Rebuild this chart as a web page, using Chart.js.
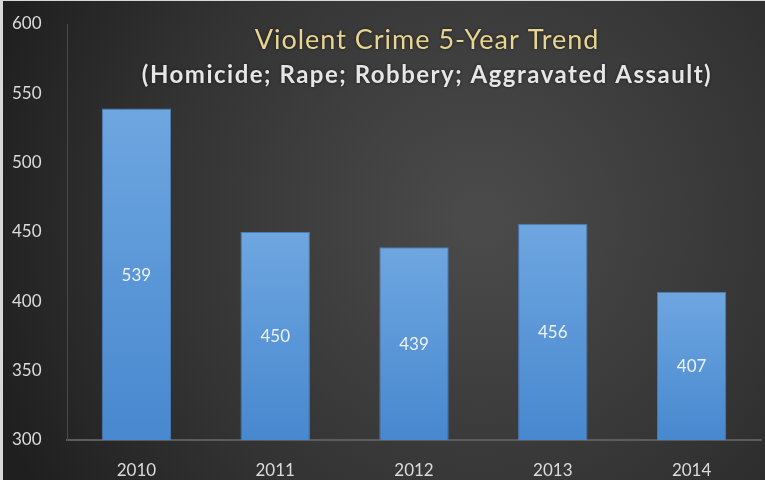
<!DOCTYPE html>
<html>
<head>
<meta charset="utf-8">
<script src="https://cdn.jsdelivr.net/npm/chart.js@4/dist/chart.umd.min.js"></script>
<style>
  html, body { margin: 0; padding: 0; background: #222; }
  #wrap { width: 765px; height: 480px; position: relative; }
</style>
</head>
<body>
<div id="wrap"><canvas id="myChart" width="765" height="480"></canvas></div>
<script>
const years = ["2010", "2011", "2012", "2013", "2014"];
const crimes = [539, 450, 439, 456, 407];
const yTicks = [300, 350, 400, 450, 500, 550, 600];
const titleText = "Violent Crime 5-Year Trend";
const subtitleText = "(Homicide; Rape; Robbery; Aggravated Assault)";

// dark radial background
const backdrop = {
  id: "backdrop",
  beforeDraw(chart) {
    const c = chart.ctx;
    const g = c.createRadialGradient(480, 220, 20, 480, 220, 520);
    g.addColorStop(0, "#4a4a4a");
    g.addColorStop(0.6, "#333333");
    g.addColorStop(1, "#1f1f1f");
    c.save();
    c.fillStyle = g;
    c.fillRect(0, 0, chart.width, chart.height);
    // light edge on the left like the screenshot
    c.fillStyle = "#d8d8d8";
    c.fillRect(0, 0, 3, chart.height);
    c.fillRect(0, 0, chart.width, 1);
    c.restore();
  }
};

// titles over the plot and value labels inside bars
const overlay = {
  id: "overlay",
  afterDatasetsDraw(chart) {
    const c = chart.ctx;
    const y = chart.scales.y;
    c.save();
    c.textAlign = "center";
    c.textBaseline = "middle";
    c.shadowColor = "rgba(0,0,0,0.6)";
    c.shadowBlur = 3;
    c.fillStyle = "#e8d591";
    c.font = "27px Lato";
    c.letterSpacing = "1px";
    c.fillText(titleText, 427, 40);
    c.fillStyle = "#e6e6e6";
    c.font = "bold 24px Lato";
    c.letterSpacing = "1.5px";
    c.fillText(subtitleText, 427, 75);
    c.shadowBlur = 0;
    c.letterSpacing = "0px";

    const meta = chart.getDatasetMeta(0);
    const base = y.getPixelForValue(300);
    c.fillStyle = "#eef2f8";
    c.font = "17px Lato";
    meta.data.forEach((bar, i) => {
      const top = y.getPixelForValue(crimes[i]);
      c.fillText(String(crimes[i]), bar.x, (top + base) / 2 + 1);
    });
    c.restore();
  }
};

function barFill(ctx) {
  const chart = ctx.chart;
  const y = chart.scales.y;
  if (!y || ctx.raw === undefined) return "#5b97d8";
  const top = y.getPixelForValue(ctx.raw);
  const bottom = y.getPixelForValue(300);
  if (!isFinite(top) || !isFinite(bottom) || top === bottom) return "#5b97d8";
  const g = chart.ctx.createLinearGradient(0, top, 0, bottom);
  g.addColorStop(0, "#6ea6e0");
  g.addColorStop(1, "#4888cf");
  return g;
}

new Chart(document.getElementById("myChart"), {
  type: "bar",
  data: {
    labels: years,
    datasets: [{
      data: crimes,
      backgroundColor: barFill,
      borderColor: "#4a7db5",
      borderWidth: 1,
      barPercentage: 0.5,
      categoryPercentage: 1.0
    }]
  },
  options: {
    responsive: false,
    animation: false,
    layout: { padding: { left: 12, right: 4, top: 24, bottom: 0 } },
    plugins: {
      legend: { display: false },
      tooltip: { enabled: false }
    },
    scales: {
      x: {
        grid: { display: false, offset: true },
        border: { display: true, color: "#5c5c5c", width: 2 },
        ticks: { color: "#dcdcdc", font: { family: "Lato", size: 17 }, padding: 12 },
        afterFit(scale) { scale.height = 40; }
      },
      y: {
        min: 300,
        max: 600,
        afterBuildTicks(scale) { scale.ticks = yTicks.map(v => ({ value: v })); },
        grid: { display: false },
        border: { display: true, color: "#4a4a4a", width: 1 },
        ticks: { color: "#dcdcdc", crossAlign: "far", font: { family: "Lato", size: 17 } },
        afterFit(scale) { scale.width = 55; }
      }
    }
  },
  plugins: [backdrop, overlay]
});
</script>
</body>
</html>
